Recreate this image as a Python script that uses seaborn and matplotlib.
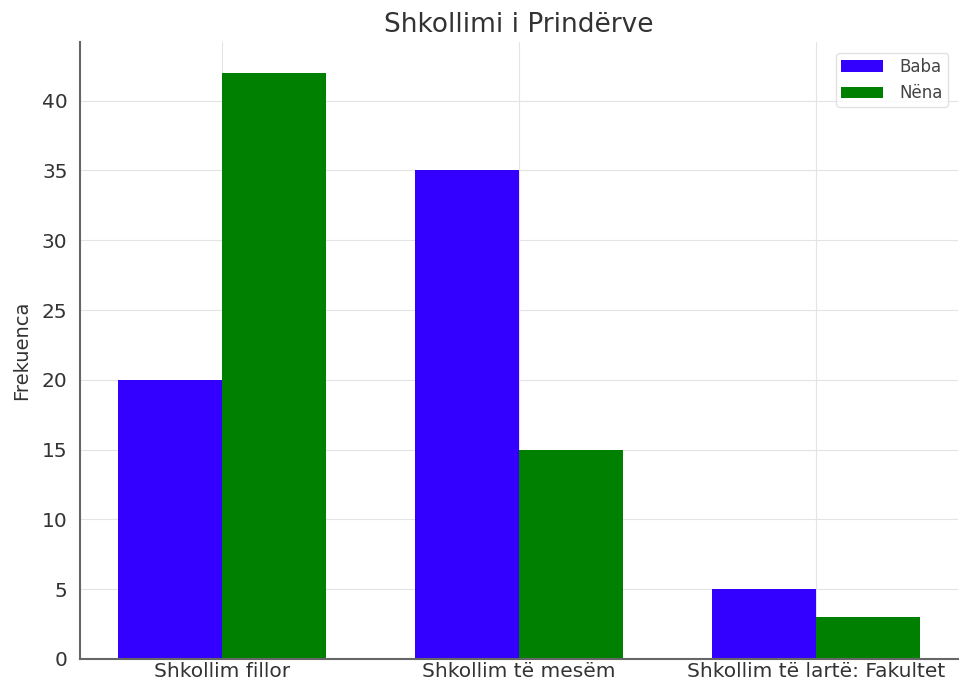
import matplotlib
matplotlib.use("Agg")
import matplotlib.pyplot as plt
import seaborn as sns
import pandas as pd

categories = ["Shkollim fillor", "Shkollim të mesëm", "Shkollim të lartë: Fakultet"]
baba = [20, 35, 5]
nena = [42, 15, 3]
series_names = ["Baba", "Nëna"]
colors = ["#3300ff", "#008000"]

df = pd.DataFrame({
    "cat": categories * 2,
    "val": baba + nena,
    "prind": [series_names[0]] * 3 + [series_names[1]] * 3,
})

sns.set_style("white")
plt.rcParams["font.family"] = ["DejaVu Sans"]

fig = plt.figure(figsize=(9.68, 6.84), dpi=100)
ax = fig.add_axes([80 / 968, 1 - 659 / 684, (958 - 80) / 968, (659 - 42) / 684])

sns.barplot(data=df, x="cat", y="val", hue="prind", palette=colors,
            width=0.7, saturation=1, ax=ax, edgecolor="none", linewidth=0)

ax.set_xlim(-0.478, 2.478)
ax.set_ylim(0, 44.2)
ax.set_yticks(range(0, 45, 5))
ax.set_title("Shkollimi i Prindërve", fontsize=19, color="#333333", pad=7)
ax.set_ylabel("Frekuenca", fontsize=14, color="#333333", labelpad=8)
ax.set_xlabel("")
ax.tick_params(axis="both", labelsize=14.5, colors="#333333")
ax.tick_params(axis="y", length=5, color="#777777", pad=4)
ax.tick_params(axis="x", length=0, pad=2)
ax.grid(True, axis="both", color="#e4e4e4", linestyle="-", linewidth=0.8)
ax.set_axisbelow(True)
for s in ["top", "right"]:
    ax.spines[s].set_visible(False)
for s in ["left", "bottom"]:
    ax.spines[s].set_color("#666666")
    ax.spines[s].set_linewidth(1.5)

leg = ax.legend(loc="upper right", fontsize=12, frameon=True, title=None,
                handlelength=2.5, borderpad=0.3, labelspacing=0.5,
                borderaxespad=0, handletextpad=1.0,
                bbox_to_anchor=(0.9886, 0.982))
leg.get_frame().set_edgecolor("#dddddd")
for t in leg.get_texts():
    t.set_color("#444444")

fig.savefig("out.png", dpi=100)
